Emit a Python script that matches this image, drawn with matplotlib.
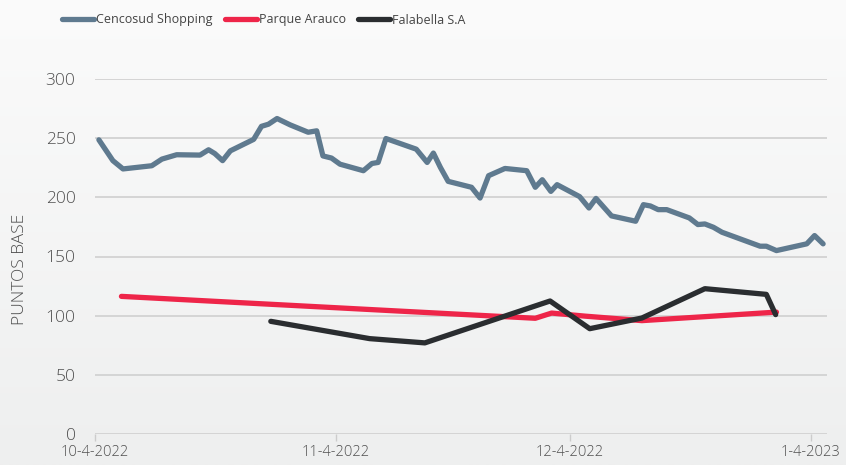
import numpy as np
import matplotlib.pyplot as plt
from matplotlib.colors import LinearSegmentedColormap

# días desde 10-4-2022
cenco_dias = [0.5, 2.3, 3.6, 7.3, 8.6, 10.5, 13.5, 14.6, 15.4, 16.4, 17.4, 20.4, 21.4, 22.3,
              23.4, 25.1, 27.4, 28.5, 29.3, 30.4, 31.5, 34.5, 35.6, 36.4, 37.4, 41.3, 42.7,
              43.5, 44.4, 45.4, 48.4, 49.5, 50.6, 52.7, 55.5, 56.6, 57.5, 58.6, 59.4, 62.3,
              63.5, 64.4, 66.4, 69.5, 70.5, 71.4, 72.4, 73.5, 76.4, 77.5, 78.4, 79.5, 80.6,
              85.5, 86.3, 87.6, 91.5, 92.5, 93.6]
cenco_pb = [248.6, 231, 224, 226.7, 232.3, 236, 235.7, 240.2, 237, 231, 239.3, 249, 260, 261.8,
            266.6, 261.2, 255, 256.2, 235, 233.2, 228, 222.5, 228.6, 229.5, 249.7, 240.7, 229.5,
            237.4, 225.3, 213.5, 208.5, 199.4, 218.3, 224.4, 222.5, 208.5, 214.9, 205, 210.7, 200.6,
            191, 199.1, 184.3, 179.8, 193.8, 192.7, 189.6, 189.6, 182.6, 177, 177.5, 174.7, 170.5,
            158.7, 158.7, 155, 160.7, 167.7, 160.7]

parque_dias = [3.4, 56.6, 58.7, 63.0, 70.3, 87.6]
parque_pb = [116.3, 97.8, 102.2, 99.6, 95.8, 103.0]

fala_dias = [22.6, 35.3, 42.4, 58.5, 63.6, 70.3, 78.4, 86.3, 87.5]
fala_pb = [95.2, 80.6, 77.0, 112.4, 89.0, 98.0, 122.8, 118.0, 100.9]

tick_dias = [0, 31, 61, 92]
tick_labels = ['10-4-2022', '11-4-2022', '12-4-2022', '1-4-2023']
y_ticks = [0, 50, 100, 150, 200, 250, 300]

plt.rcParams['font.family'] = ['Open Sans', 'DejaVu Sans']

fig = plt.figure(figsize=(8.46, 4.65), dpi=100)

# fondo degradado
bg = fig.add_axes([0, 0, 1, 1], zorder=-10)
cmap = LinearSegmentedColormap.from_list('bg', ['#fbfbfb', '#eeefef'])
bg.imshow(np.linspace(0, 1, 256).reshape(-1, 1), aspect='auto', cmap=cmap, extent=[0, 1, 0, 1])
bg.axis('off')

ax = fig.add_axes([95 / 846, 31 / 465, 732 / 846, 355 / 465])
ax.patch.set_alpha(0)

ax.plot(cenco_dias, cenco_pb, color='#5f7a8f', lw=3.8, solid_capstyle='round',
        solid_joinstyle='round', label='Cencosud Shopping')
ax.plot(parque_dias, parque_pb, color='#ee2549', lw=3.8, solid_capstyle='round',
        solid_joinstyle='round', label='Parque Arauco')
ax.plot(fala_dias, fala_pb, color='#2a2d30', lw=3.8, solid_capstyle='round',
        solid_joinstyle='round', label='Falabella S.A')

ax.set_xlim(0, 94.1)
ax.set_ylim(0, 300)
ax.set_yticks(y_ticks)
ax.set_xticks(tick_dias)
ax.set_xticklabels(tick_labels, fontweight='light')
ax.set_yticklabels([str(v) for v in y_ticks], fontweight='light')
ax.yaxis.grid(True, color='#d2d2d2', lw=1.3)
ax.set_axisbelow(True)
for s in ['top', 'right', 'left', 'bottom']:
    ax.spines[s].set_visible(False)
ax.tick_params(axis='y', length=0, labelsize=12.5, labelcolor='#505050', pad=14)
ax.tick_params(axis='x', length=5, width=1, color='#cccccc', labelsize=10.5,
               labelcolor='#505050', pad=3)
ax.set_ylabel('PUNTOS BASE', fontsize=12.5, color='#505050', fontweight='light')
ax.yaxis.set_label_coords(-0.091, 0.465)

leg = fig.legend(loc='center left', bbox_to_anchor=(62 / 846, 1 - 20 / 465), ncol=3,
                 frameon=False, prop={'size': 9}, borderpad=0, borderaxespad=0,
                 handlelength=2.56, handletextpad=0.15, columnspacing=1.0,
                 labelcolor='#444444')

fig.savefig('out.png', dpi=100)
